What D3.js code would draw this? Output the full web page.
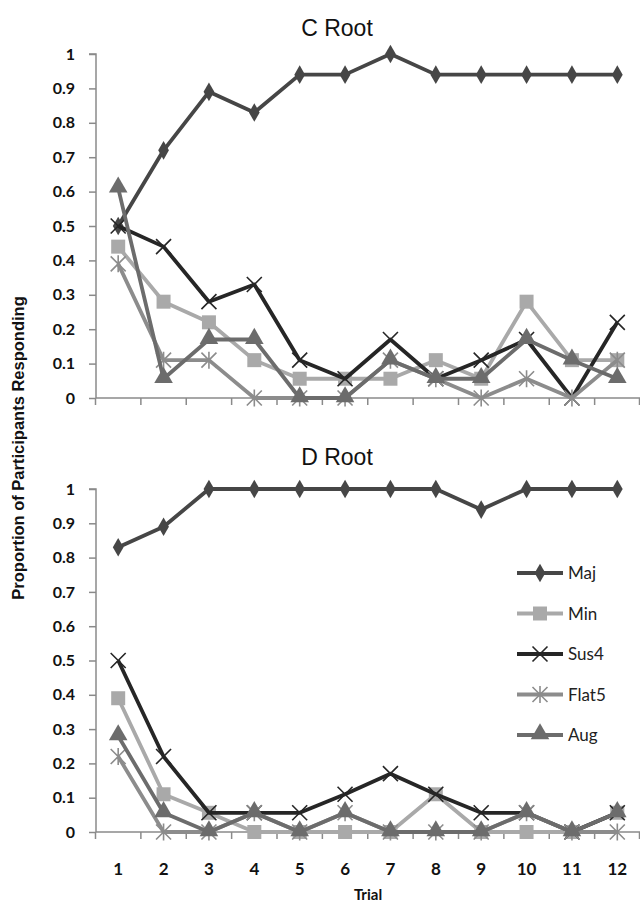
<!DOCTYPE html>
<head>
  <meta charset="utf-8">
  <script src="https://d3js.org/d3.v7.min.js"></script>
  <style>
    body { margin: 0; background: #fff; }
    .tick text, .xlab { font-family: Lato, "Open Sans", sans-serif; font-weight: bold; font-size: 16px; fill: #111; }
    .xlab { font-size: 17px; }
    .title { font-family: "Liberation Sans", Arial, sans-serif; font-size: 23px; fill: #111; }
    .ylab { font-family: "Liberation Sans", Arial, sans-serif; font-weight: bold; font-size: 16.5px; fill: #111; }
    .legend text { font-family: Lato, "Open Sans", sans-serif; font-size: 17px; fill: #222; }
  </style>
</head>

<body>
  <div id="chart"></div>
  <script>
    // trials and series (proportion of 18 participants)
    var trials = [1, 2, 3, 4, 5, 6, 7, 8, 9, 10, 11, 12];
    var seriesNames = ["Maj", "Min", "Sus4", "Flat5", "Aug"];
    var yTicks = [0, 0.1, 0.2, 0.3, 0.4, 0.5, 0.6, 0.7, 0.8, 0.9, 1];

    var cMaj   = [0.5, 0.72, 0.89, 0.83, 0.94, 0.94, 1, 0.94, 0.94, 0.94, 0.94, 0.94];
    var cMin   = [0.44, 0.28, 0.22, 0.11, 0.056, 0.056, 0.056, 0.11, 0.056, 0.28, 0.11, 0.11];
    var cSus4  = [0.5, 0.44, 0.28, 0.33, 0.11, 0.056, 0.17, 0.056, 0.11, 0.17, 0, 0.22];
    var cFlat5 = [0.39, 0.11, 0.11, 0, 0, 0, 0.11, 0.056, 0, 0.056, 0, 0.11];
    var cAug   = [0.61, 0.056, 0.17, 0.17, 0, 0, 0.11, 0.056, 0.056, 0.17, 0.11, 0.056];

    var dMaj   = [0.83, 0.89, 1, 1, 1, 1, 1, 1, 0.94, 1, 1, 1];
    var dMin   = [0.39, 0.11, 0.056, 0, 0, 0, 0, 0.11, 0, 0, 0, 0.056];
    var dSus4  = [0.5, 0.22, 0.056, 0.056, 0.056, 0.11, 0.17, 0.11, 0.056, 0.056, 0, 0.056];
    var dFlat5 = [0.22, 0, 0, 0.056, 0, 0.056, 0, 0, 0, 0.056, 0, 0];
    var dAug   = [0.28, 0.056, 0, 0.056, 0, 0.056, 0, 0, 0, 0.056, 0, 0.056];

    var width = 640, height = 907;
    var colors = {Maj: "#464646", Min: "#a9a9a9", Sus4: "#262626", Flat5: "#8c8c8c", Aug: "#6c6c6c"};

    var svg = d3.select("#chart").append("svg")
      .attr("width", width).attr("height", height);

    var x = d3.scaleBand().domain(trials).range([95.5, 640]);

    var panels = [
      {title: "C Root", top: 54, bottom: 398, titleY: 36, data: [cMaj, cMin, cSus4, cFlat5, cAug], labels: false},
      {title: "D Root", top: 489, bottom: 832, titleY: 465, data: [dMaj, dMin, dSus4, dFlat5, dAug], labels: true}
    ];

    function marker(g, name, cx, cy) {
      var c = colors[name];
      if (name == "Maj") {
        g.append("path").attr("d", d3.symbol(d3.symbolDiamond, 100)())
          .attr("transform", "translate(" + cx + "," + cy + ")").attr("fill", c);
      } else if (name == "Min") {
        g.append("path").attr("d", d3.symbol(d3.symbolSquare, 196)())
          .attr("transform", "translate(" + cx + "," + cy + ")").attr("fill", c);
      } else if (name == "Aug") {
        g.append("path").attr("d", d3.symbol(d3.symbolTriangle, 150)())
          .attr("transform", "translate(" + cx + "," + (cy - 1) + ")").attr("fill", c);
      } else {
        var r = 7.5;
        var p = "M" + (-r) + "," + (-r) + "L" + r + "," + r + "M" + r + "," + (-r) + "L" + (-r) + "," + r;
        if (name == "Flat5") p += "M0," + (-r - 1) + "L0," + (r + 1);
        g.append("path").attr("d", p)
          .attr("transform", "translate(" + cx + "," + cy + ")")
          .attr("stroke", c).attr("stroke-width", 1.6).attr("fill", "none");
      }
    }

    panels.forEach(function(p) {
      var y = d3.scaleLinear().domain([0, 1]).range([p.bottom, p.top]);
      var g = svg.append("g");

      g.append("text").attr("class", "title")
        .attr("x", 337).attr("y", p.titleY).attr("text-anchor", "middle").text(p.title);

      // y axis
      var yAxis = g.append("g").attr("transform", "translate(96,0)")
        .call(d3.axisLeft(y).tickValues(yTicks).tickSize(7).tickPadding(14)
          .tickFormat(function(d) { return String(+d.toFixed(1)); }));
      yAxis.selectAll("path, line").attr("stroke", "#8a8a8a").attr("stroke-width", 1.5);
      yAxis.select(".domain").attr("d", "M-7," + p.top + "H0V" + p.bottom);

      // x axis, ticks at category boundaries
      var xa = g.append("g");
      xa.append("line").attr("x1", 96).attr("x2", x.range()[1])
        .attr("y1", p.bottom).attr("y2", p.bottom)
        .attr("stroke", "#8a8a8a").attr("stroke-width", 1.5);
      var bounds = trials.map(function(t) { return x(t); }).concat([x.range()[1] - 0.5]);
      xa.selectAll(".xt").data(bounds).enter().append("line")
        .attr("x1", function(d) { return d; }).attr("x2", function(d) { return d; })
        .attr("y1", p.bottom).attr("y2", p.bottom + 7)
        .attr("stroke", "#8a8a8a").attr("stroke-width", 1.5);
      if (p.labels) {
        xa.selectAll(".xlab").data(trials).enter().append("text")
          .attr("class", "xlab").attr("text-anchor", "middle")
          .attr("x", function(d) { return x(d) + x.bandwidth() / 2; })
          .attr("y", p.bottom + 43).text(function(d) { return d; });
      }

      var line = d3.line()
        .x(function(d, i) { return x(trials[i]) + x.bandwidth() / 2; })
        .y(function(d) { return y(d); });

      p.data.forEach(function(vals, k) {
        var name = seriesNames[k];
        var sg = g.append("g");
        sg.append("path").datum(vals).attr("d", line)
          .attr("fill", "none").attr("stroke", colors[name])
          .attr("stroke-width", 3.8).attr("stroke-linejoin", "round");
        vals.forEach(function(v, i) {
          marker(sg, name, x(trials[i]) + x.bandwidth() / 2, y(v));
        });
      });
    });

    // axis titles
    svg.append("text").attr("class", "xlab").attr("x", 368).attr("y", 900)
      .attr("text-anchor", "middle").style("font-size", "15px").text("Trial");
    svg.append("text").attr("class", "ylab")
      .attr("transform", "translate(24,448) rotate(-90)")
      .attr("text-anchor", "middle").text("Proportion of Participants Responding");

    // legend
    var leg = svg.append("g").attr("class", "legend");
    seriesNames.forEach(function(name, i) {
      var ly = 573 + i * 40.5;
      leg.append("line").attr("x1", 517).attr("x2", 563).attr("y1", ly).attr("y2", ly)
        .attr("stroke", colors[name]).attr("stroke-width", 3.8);
      marker(leg, name, 540, ly);
      leg.append("text").attr("x", 568).attr("y", ly + 6).text(name);
    });
  </script>
</body>
